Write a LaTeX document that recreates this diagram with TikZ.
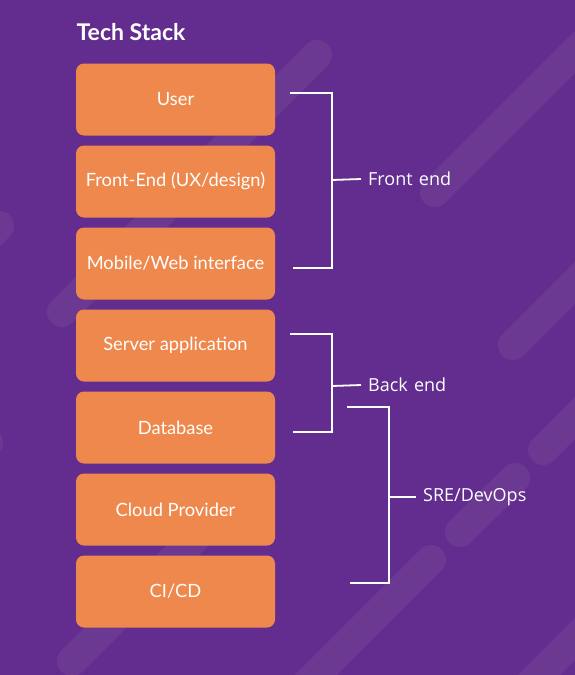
\documentclass[tikz,border=0pt]{standalone}
\usepackage{fontspec}
\setmainfont{Lato}
\newfontfamily\labelfont{Open Sans}
\definecolor{bgpurple}{RGB}{98,45,143}
\definecolor{stripecol}{RGB}{108,57,146}
\definecolor{boxorange}{RGB}{238,136,76}
\tikzset{
  stripe/.style={draw=stripecol, line width=30pt, line cap=round},
  layerbox/.style={fill=boxorange, rounded corners=8pt, minimum width=199pt, minimum height=72pt,
    inner sep=0pt, text=white, font=\fontsize{18.3}{20}\selectfont},
  brace/.style={draw=white, line width=1.8pt},
  bracelabel/.style={anchor=west, text=white, inner sep=0pt, font=\labelfont\fontsize{18}{20}\selectfont},
}
\begin{document}
\begin{tikzpicture}[x=1pt,y=-1pt]
\fill[bgpurple] (0,0) rectangle (575,675);
\useasboundingbox (0,0) rectangle (575,675);
\begin{scope}
\clip (0,0) rectangle (575,675);
\draw[stripe] (62,312) -- (317,55);
\draw[stripe] (435,192) -- (640,-13);
\draw[stripe] (-1,226) -- (-60,285);
\draw[stripe] (513,345) -- (640,218);
\draw[stripe] (543,450) -- (640,353);
\draw[stripe] (460,532) -- (515,478);
\draw[stripe] (431,560) -- (280,711);
\draw[stripe] (640,574) -- (520,694);
\draw[stripe] (-12,442) -- (-60,490);
\draw[stripe] (72,661) -- (200,533);
\end{scope}

\node[anchor=base west, inner sep=0pt, text=white, font=\bfseries\fontsize{23}{26}\selectfont] (title) at (76.5,40) {Tech Stack};

\node[layerbox] (user) at (175.5,99.5) {User};
\node[layerbox] (fe) at (175.5,181.5) {Front-End (UX/design)};
\node[layerbox] (mob) at (175.5,263.5) {Mobile/Web interface};
\node[layerbox] (srv) at (175.5,345.5) {Server application};
\node[layerbox] (db) at (175.5,427.5) {Database};
\node[layerbox] (cloud) at (175.5,509.5) {Cloud Provider};
\node[layerbox] (cicd) at (175.5,591.5) {CI/CD};

% Front end bracket
\coordinate (f1) at (290,93);
\coordinate (f2) at (293,268);
\node[bracelabel] (flab) at (368,179) {Front\hspace{1.5pt} end};
\draw[brace] (f1) -- (332,93) -- (332,268) -- (f2);
\draw[brace] (332,180) -- ([xshift=-7pt]flab.west);

% Back end bracket
\coordinate (b1) at (290,334);
\coordinate (b2) at (293,432);
\node[bracelabel] (blab) at (368,385) {Back\hspace{1.5pt} end};
\draw[brace] (b1) -- (332,334) -- (332,432) -- (b2);
\draw[brace] (332,386) -- ([xshift=-7pt]blab.west);

% SRE bracket
\coordinate (s1) at (347,407);
\coordinate (s2) at (350,583);
\node[bracelabel] (slab) at (423,497) {SRE/DevOps};
\draw[brace] (s1) -- (389,407) -- (389,583) -- (s2);
\draw[brace] (389,497) -- ([xshift=-7pt]slab.west);
\end{tikzpicture}
\end{document}
